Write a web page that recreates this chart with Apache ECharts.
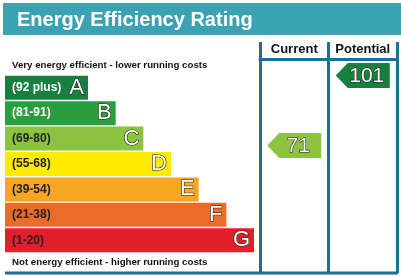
<!DOCTYPE html>
<html>
<head>
<meta charset="utf-8">
<script src="https://cdn.jsdelivr.net/npm/echarts@6/dist/echarts.min.js"></script>
<style>
  html, body { margin: 0; padding: 0; background: #fff; }
  #chart { width: 401px; height: 276px; }
</style>
</head>
<body>
<div id="chart"></div>
<script>
// data
const bands = ['A', 'B', 'C', 'D', 'E', 'F', 'G'];
const ranges = ['(92 plus)', '(81-91)', '(69-80)', '(55-68)', '(39-54)', '(21-38)', '(1-20)'];
const barLengths = [3, 4, 5, 6, 7, 8, 9];
const columns = ['Current', 'Potential'];
const ratings = [71, 101];
const ratingBands = ['C', 'A'];

// styling
const bandColors = ['#17803f', '#2a9d3f', '#8cc43f', '#ffeb00', '#f6a623', '#ec6b27', '#e2202a'];
const rangeColors = ['#fff', '#fff', '#222', '#222', '#222', '#222', '#222'];
const frame = '#1f6f95';
const font = 'Liberation Sans, Arial, sans-serif';

const chart = echarts.init(document.getElementById('chart'));

function renderArrow(params, api) {
  const c = api.coord([api.value(0), api.value(1)]);
  const w = 54, h = 25, tip = 12;
  const x0 = c[0] - w / 2, x1 = c[0] + w / 2, y0 = c[1] - h / 2, y1 = c[1] + h / 2;
  return {
    type: 'group',
    children: [
      {
        type: 'polygon',
        shape: { points: [[x0, c[1]], [x0 + tip, y0], [x1, y0], [x1, y1], [x0 + tip, y1]] },
        style: { fill: api.visual('color') }
      },
      {
        type: 'text',
        x: c[0] + 4,
        y: c[1] + 1,
        style: {
          text: String(api.value(1)),
          align: 'center',
          verticalAlign: 'middle',
          fill: '#fff',
          stroke: '#222',
          lineWidth: 1.2,
          font: '21px ' + font
        }
      }
    ]
  };
}

chart.setOption({
  animation: false,
  title: [
    { text: 'Energy Efficiency Rating', left: 12, top: 5,
      textStyle: { color: '#fff', fontSize: 20, fontWeight: 'bold', fontFamily: font } },
    { text: 'Very energy efficient - lower running costs', left: 7, top: 55,
      textStyle: { color: '#111', fontSize: 9.7, fontWeight: 'bold', fontFamily: font } },
    { text: 'Not energy efficient - higher running costs', left: 7, top: 252,
      textStyle: { color: '#111', fontSize: 9.7, fontWeight: 'bold', fontFamily: font } }
  ],
  graphic: [
    { type: 'rect', z: -10, shape: { x: 3, y: 3, width: 398, height: 32 }, style: { fill: '#3ba2b4' } },
    { type: 'line', shape: { x1: 5, y1: 273, x2: 398, y2: 273 }, style: { stroke: frame, lineWidth: 3 } }
  ],
  grid: [
    { left: 5, width: 249, top: 75, height: 178 },
    { left: 260, right: 4, top: 59, bottom: 3 },
    { left: 260, right: 4, top: 54.5, height: 210 }
  ],
  xAxis: [
    { gridIndex: 0, type: 'value', min: 0, max: 9, show: false },
    { gridIndex: 1, type: 'category', data: columns, position: 'top',
      axisLine: { onZero: false, lineStyle: { color: frame, width: 3 } },
      axisTick: { show: true, inside: false, interval: 0, length: 17, lineStyle: { color: frame, width: 3 } },
      splitLine: { show: true, interval: 0, lineStyle: { color: frame, width: 3 } },
      axisLabel: { interval: 0, color: '#111', fontSize: 13, fontWeight: 'bold', fontFamily: font, margin: 3 } },
    { gridIndex: 2, type: 'category', data: columns, show: false }
  ],
  yAxis: [
    { gridIndex: 0, type: 'category', data: bands, inverse: true, show: false },
    { gridIndex: 1, type: 'value', show: false },
    { gridIndex: 2, type: 'value', min: 20, max: 110, show: false }
  ],
  series: [
    {
      type: 'bar',
      xAxisIndex: 0, yAxisIndex: 0,
      barWidth: 24,
      data: barLengths.map((v, i) => ({ value: v, itemStyle: { color: bandColors[i] } })),
      label: {
        show: true, position: 'insideRight', distance: 4,
        formatter: p => bands[p.dataIndex],
        color: '#fff', fontSize: 22, fontFamily: font,
        textBorderColor: '#222', textBorderWidth: 1.2
      }
    },
    {
      type: 'bar',
      xAxisIndex: 0, yAxisIndex: 0,
      barWidth: 24, barGap: '-100%',
      itemStyle: { color: 'transparent' },
      data: barLengths.map((v, i) => ({ value: v, label: { color: rangeColors[i] } })),
      label: {
        show: true, position: 'insideLeft', distance: 7,
        formatter: p => ranges[p.dataIndex],
        fontSize: 12, fontWeight: 'bold', fontFamily: font
      }
    },
    {
      type: 'custom',
      xAxisIndex: 2, yAxisIndex: 2,
      renderItem: renderArrow,
      data: ratings.map((v, i) => ({
        value: [i, v],
        itemStyle: { color: bandColors[bands.indexOf(ratingBands[i])] }
      }))
    }
  ]
});
</script>
</body>
</html>
